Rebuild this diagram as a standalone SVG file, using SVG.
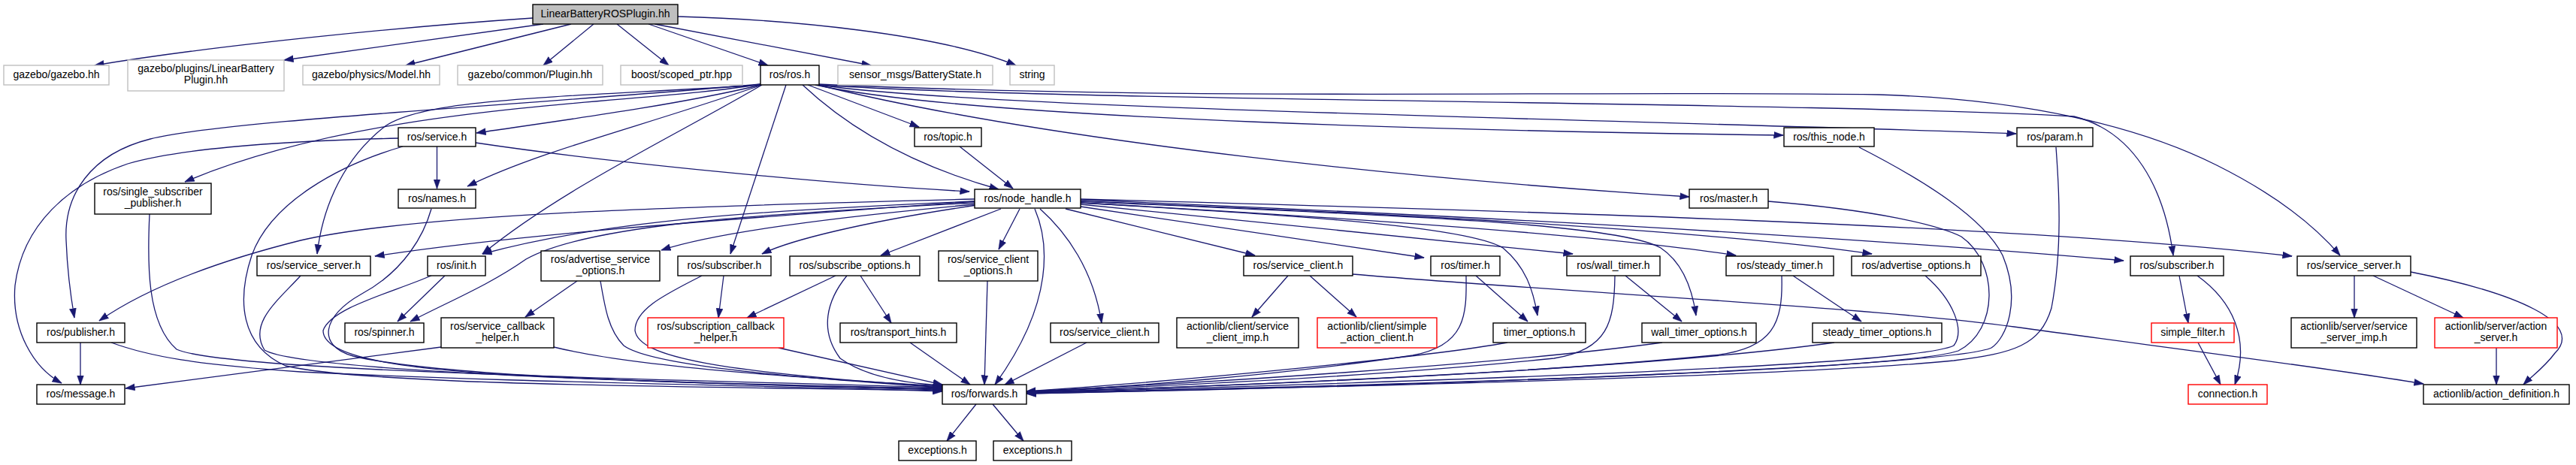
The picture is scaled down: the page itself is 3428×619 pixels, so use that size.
<svg xmlns="http://www.w3.org/2000/svg" width="3428" height="619" viewBox="0 0 3428 619">
<style>
.e{fill:none;stroke:#191970;stroke-width:1.3;marker-end:url(#ah)}
.n rect{fill:#fff;stroke:#000;stroke-width:1.4}
.g rect{fill:#fff;stroke:#bfbfbf;stroke-width:1.4}
.r rect{fill:#fff;stroke:#ff0000;stroke-width:1.4}
.root rect{fill:#bfbfbf;stroke:#000;stroke-width:1.4}
text{font-family:"Liberation Sans",Arial,sans-serif;font-size:14px;text-anchor:middle;fill:#000}
</style>
<defs>
<marker id="ah" markerUnits="userSpaceOnUse" markerWidth="13" markerHeight="10" viewBox="0 0 13 10" refX="12.5" refY="5" orient="auto"><path d="M0,0.5 L13,5 L0,9.5 z" fill="#191970" stroke="#191970" stroke-width="0.5"/></marker>
</defs>
<rect width="3428" height="619" fill="#fff"/>
<g id="edges">
<path class="e" d="M709,24 C560,34 300,58 126,87"/>
<path class="e" d="M723,32 L378,80"/>
<path class="e" d="M760,32 L540,87"/>
<path class="e" d="M790,32 L723,87"/>
<path class="e" d="M821,32 L890,87"/>
<path class="e" d="M863,32 L1022,87"/>
<path class="e" d="M871,32 L1159,87"/>
<path class="e" d="M902,22 C1050,26 1250,45 1352,87"/>
<path class="e" d="M1013,113 C900,140 750,160 634,177"/>
<path class="e" d="M1014,113 C850,170 720,200 622,248"/>
<path class="e" d="M1012,112 C850,140 500,135 246,242"/>
<path class="e" d="M1012,112 C700,140 300,160 200,185 C120,205 85,260 88,320 C90,370 95,400 99,423"/>
<path class="e" d="M1013,113 C750,130 560,130 510,170 C460,210 430,270 422,338"/>
<path class="e" d="M1014,113 C900,180 750,250 642,338"/>
<path class="e" d="M1046,113 L972,338"/>
<path class="e" d="M1068,113 C1150,190 1250,230 1329,252"/>
<path class="e" d="M1075,113 L1223,169"/>
<path class="e" d="M1085,113 C1300,160 2000,175 2373,180"/>
<path class="e" d="M1088,113 C1400,190 1900,240 2248,262"/>
<path class="e" d="M1090,113 C1300,145 2200,160 2683,178"/>
<path class="e" d="M1090,113 C1400,135 2400,135 2760,155 C2840,175 2880,250 2892,340"/>
<path class="e" d="M1088,112 C1600,135 2100,120 2500,126 C2700,132 2850,170 2950,220 C3030,260 3080,300 3114,340"/>
<path class="e" d="M581.5,195 L581.5,251"/>
<path class="e" d="M633,190 C800,215 1100,245 1290,255"/>
<path class="e" d="M530,184 C400,187 250,195 170,218 C90,245 30,300 20,380 C15,440 45,490 82,510"/>
<path class="e" d="M536,195 C450,220 360,270 335,340 C315,400 320,460 380,487 C500,515 1000,515 1254,520"/>
<path class="e" d="M574,278 C565,310 540,360 480,392 C430,420 420,460 470,474 C600,505 1000,512 1254,518"/>
<path class="e" d="M199,285 C196,350 195,430 235,465 C300,495 900,505 1254,516"/>
<path class="e" d="M107,456 L107,512"/>
<path class="e" d="M148,456 C200,475 260,485 400,495 C700,510 1000,512 1254,521"/>
<path class="e" d="M400,367 C370,400 330,430 352,466 C400,495 900,510 1254,519"/>
<path class="e" d="M574,367 C520,390 440,410 430,440 C430,470 500,490 700,500 C900,510 1100,514 1254,517"/>
<path class="e" d="M592,367 L529,428"/>
<path class="e" d="M587,462 L167,517"/>
<path class="e" d="M737,462 C850,490 1100,505 1254,514"/>
<path class="e" d="M768,374 L699,422"/>
<path class="e" d="M799,374 C805,410 810,440 830,460 C870,490 1100,505 1254,516"/>
<path class="e" d="M934,367 C890,390 845,410 845,440 C850,475 950,495 1254,515"/>
<path class="e" d="M963,367 L956,423"/>
<path class="e" d="M1112,367 L994,423"/>
<path class="e" d="M1127,367 C1100,400 1090,440 1118,477 C1150,500 1200,510 1254,513"/>
<path class="e" d="M1145,367 L1186,430"/>
<path class="e" d="M1036,463 L1254,512"/>
<path class="e" d="M1211,456 L1291,512"/>
<path class="e" d="M1314,374 L1310,512"/>
<path class="e" d="M1377,278 C1395,320 1405,400 1324,512"/>
<path class="e" d="M1446,456 L1337,512"/>
<path class="e" d="M1384,278 C1420,310 1455,360 1466,430"/>
<path class="e" d="M1299,538 L1260,587"/>
<path class="e" d="M1321,538 L1362,587"/>
<path class="e" d="M1297,265 C900,275 550,285 400,320 C300,345 200,380 132,427"/>
<path class="e" d="M1297,268 C1000,290 700,310 499,341"/>
<path class="e" d="M1297,268 C1000,280 800,295 642,338"/>
<path class="e" d="M1297,270 C1000,285 780,300 700,345 C650,380 600,400 546,428"/>
<path class="e" d="M1297,272 C1100,290 950,310 880,333"/>
<path class="e" d="M1300,273 C1150,295 1050,320 1014,338"/>
<path class="e" d="M1332,278 L1172,340"/>
<path class="e" d="M1357,278 L1329,332"/>
<path class="e" d="M1418,278 L1670,340"/>
<path class="e" d="M1438,275 L1895,343"/>
<path class="e" d="M1438,270 C1700,285 1950,300 2000,330 C2030,355 2040,385 2046,420"/>
<path class="e" d="M1438,272 L2093,338"/>
<path class="e" d="M1438,268 C1800,285 2150,295 2210,330 C2240,350 2252,385 2257,420"/>
<path class="e" d="M1438,270 C1800,290 2150,315 2310,340"/>
<path class="e" d="M1438,268 C1900,285 2300,310 2491,338"/>
<path class="e" d="M1438,266 C1900,285 2400,310 2826,347"/>
<path class="e" d="M1438,265 C2000,280 2700,300 3050,341"/>
<path class="e" d="M1714,367 L1666,422"/>
<path class="e" d="M1743,367 L1805,422"/>
<path class="e" d="M1800,365 C2100,390 2500,410 2680,435 C2900,465 3100,490 3225,511"/>
<path class="e" d="M1964,367 L2033,428"/>
<path class="e" d="M1951,367 C1952,420 1950,460 1880,473 C1700,500 1500,515 1366,522"/>
<path class="e" d="M2163,367 L2238,428"/>
<path class="e" d="M2149,367 C2148,430 2140,465 2068,477 C1800,505 1500,515 1366,522"/>
<path class="e" d="M2386,367 L2477,428"/>
<path class="e" d="M2371,367 C2373,430 2360,465 2280,473 C2000,500 1600,515 1366,522"/>
<path class="e" d="M2006,456 C1900,475 1600,505 1366,521"/>
<path class="e" d="M2212,456 C2000,485 1600,510 1366,521"/>
<path class="e" d="M2441,456 C2200,490 1700,512 1366,522"/>
<path class="e" d="M2562,367 C2600,400 2615,440 2600,460 C2550,485 2000,505 1366,523"/>
<path class="e" d="M2353,268 C2500,280 2580,300 2610,315 C2660,350 2660,440 2606,467 C2540,490 2000,510 1366,523"/>
<path class="e" d="M2474,196 C2560,240 2640,290 2665,340 C2690,400 2670,450 2650,463 C2600,485 2000,512 1366,524"/>
<path class="e" d="M2736,196 C2740,250 2745,330 2730,410 C2715,460 2680,470 2600,480 C2400,500 1800,515 1366,524"/>
<path class="e" d="M2900,367 L2912,430"/>
<path class="e" d="M2924,367 C2970,400 2995,450 2974,512"/>
<path class="e" d="M2925,456 L2955,512"/>
<path class="e" d="M3133,367 L3133,423"/>
<path class="e" d="M3158,367 L3278,423"/>
<path class="e" d="M3208,362 C3350,390 3440,430 3400,470 C3385,490 3370,500 3358,512"/>
<path class="e" d="M3322,463 L3322,512"/>
<path class="e" d="M1277,195 L1348,251"/>
</g>
<g id="n_root" class="root"><rect x="709" y="6" width="193" height="26"/><text x="805.5" y="23">LinearBatteryROSPlugin.hh</text></g>
<g id="n_gazebo" class="g"><rect x="5" y="87" width="140" height="26"/><text x="75" y="104">gazebo/gazebo.hh</text></g>
<g id="n_lbplugin" class="g"><rect x="170" y="80" width="208" height="41"/><text x="274" y="96">gazebo/plugins/LinearBattery</text><text x="274" y="111">Plugin.hh</text></g>
<g id="n_model" class="g"><rect x="403" y="87" width="182" height="26"/><text x="494" y="104">gazebo/physics/Model.hh</text></g>
<g id="n_plugin" class="g"><rect x="609" y="87" width="193" height="26"/><text x="705.5" y="104">gazebo/common/Plugin.hh</text></g>
<g id="n_scoped" class="g"><rect x="826" y="87" width="162" height="26"/><text x="907" y="104">boost/scoped_ptr.hpp</text></g>
<g id="n_ros" class="n"><rect x="1012" y="87" width="78" height="26"/><text x="1051" y="104">ros/ros.h</text></g>
<g id="n_battery" class="g"><rect x="1115" y="87" width="206" height="26"/><text x="1218" y="104">sensor_msgs/BatteryState.h</text></g>
<g id="n_string" class="g"><rect x="1344" y="87" width="59" height="26"/><text x="1373.5" y="104">string</text></g>
<g id="n_service" class="n"><rect x="530" y="170" width="103" height="25"/><text x="581.5" y="187">ros/service.h</text></g>
<g id="n_topic" class="n"><rect x="1217" y="170" width="89" height="25"/><text x="1261.5" y="187">ros/topic.h</text></g>
<g id="n_thisnode" class="n"><rect x="2374" y="170" width="120" height="25"/><text x="2434" y="187">ros/this_node.h</text></g>
<g id="n_param" class="n"><rect x="2684" y="170" width="101" height="25"/><text x="2734.5" y="187">ros/param.h</text></g>
<g id="n_ssp" class="n"><rect x="126" y="244" width="155" height="41"/><text x="203.5" y="260">ros/single_subscriber</text><text x="203.5" y="275">_publisher.h</text></g>
<g id="n_names" class="n"><rect x="530" y="252" width="103" height="25"/><text x="581.5" y="269">ros/names.h</text></g>
<g id="n_nodehandle" class="n"><rect x="1297" y="252" width="141" height="25"/><text x="1367.5" y="269">ros/node_handle.h</text></g>
<g id="n_master" class="n"><rect x="2248" y="252" width="105" height="25"/><text x="2300.5" y="269">ros/master.h</text></g>
<g id="n_srvserverL" class="n"><rect x="342" y="341" width="151" height="26"/><text x="417.5" y="358">ros/service_server.h</text></g>
<g id="n_init" class="n"><rect x="569" y="341" width="77" height="26"/><text x="607.5" y="358">ros/init.h</text></g>
<g id="n_advsrvopt" class="n"><rect x="720" y="334" width="158" height="40"/><text x="799" y="350">ros/advertise_service</text><text x="799" y="365">_options.h</text></g>
<g id="n_subscriberL" class="n"><rect x="902" y="341" width="124" height="26"/><text x="964" y="358">ros/subscriber.h</text></g>
<g id="n_subopts" class="n"><rect x="1051" y="341" width="173" height="26"/><text x="1137.5" y="358">ros/subscribe_options.h</text></g>
<g id="n_srvclientopts" class="n"><rect x="1249" y="334" width="132" height="40"/><text x="1315" y="350">ros/service_client</text><text x="1315" y="365">_options.h</text></g>
<g id="n_srvclientU" class="n"><rect x="1655" y="341" width="145" height="26"/><text x="1727.5" y="358">ros/service_client.h</text></g>
<g id="n_timer" class="n"><rect x="1904" y="341" width="92" height="26"/><text x="1950" y="358">ros/timer.h</text></g>
<g id="n_walltimer" class="n"><rect x="2085" y="341" width="124" height="26"/><text x="2147" y="358">ros/wall_timer.h</text></g>
<g id="n_steadytimer" class="n"><rect x="2297" y="341" width="143" height="26"/><text x="2368.5" y="358">ros/steady_timer.h</text></g>
<g id="n_advopts" class="n"><rect x="2464" y="341" width="172" height="26"/><text x="2550" y="358">ros/advertise_options.h</text></g>
<g id="n_subscriberR" class="n"><rect x="2835" y="341" width="124" height="26"/><text x="2897" y="358">ros/subscriber.h</text></g>
<g id="n_srvserverR" class="n"><rect x="3057" y="341" width="151" height="26"/><text x="3132.5" y="358">ros/service_server.h</text></g>
<g id="n_publisher" class="n"><rect x="49" y="430" width="117" height="26"/><text x="107.5" y="447">ros/publisher.h</text></g>
<g id="n_spinner" class="n"><rect x="459" y="430" width="105" height="26"/><text x="511.5" y="447">ros/spinner.h</text></g>
<g id="n_srvcbhelper" class="n"><rect x="587" y="423" width="150" height="40"/><text x="662" y="439">ros/service_callback</text><text x="662" y="454">_helper.h</text></g>
<g id="n_subcbhelper" class="r"><rect x="862" y="423" width="181" height="40"/><text x="952.5" y="439">ros/subscription_callback</text><text x="952.5" y="454">_helper.h</text></g>
<g id="n_transport" class="n"><rect x="1118" y="430" width="155" height="26"/><text x="1195.5" y="447">ros/transport_hints.h</text></g>
<g id="n_srvclientL" class="n"><rect x="1398" y="430" width="144" height="26"/><text x="1470" y="447">ros/service_client.h</text></g>
<g id="n_scimp" class="n"><rect x="1566" y="423" width="162" height="40"/><text x="1647" y="439">actionlib/client/service</text><text x="1647" y="454">_client_imp.h</text></g>
<g id="n_sac" class="r"><rect x="1753" y="423" width="159" height="40"/><text x="1832.5" y="439">actionlib/client/simple</text><text x="1832.5" y="454">_action_client.h</text></g>
<g id="n_timeropts" class="n"><rect x="1987" y="430" width="123" height="26"/><text x="2048.5" y="447">timer_options.h</text></g>
<g id="n_walltimeropts" class="n"><rect x="2185" y="430" width="152" height="26"/><text x="2261" y="447">wall_timer_options.h</text></g>
<g id="n_steadytimeropts" class="n"><rect x="2412" y="430" width="172" height="26"/><text x="2498" y="447">steady_timer_options.h</text></g>
<g id="n_simplefilter" class="r"><rect x="2863" y="430" width="110" height="26"/><text x="2918" y="447">simple_filter.h</text></g>
<g id="n_ssimp" class="n"><rect x="3049" y="423" width="167" height="40"/><text x="3132.5" y="439">actionlib/server/service</text><text x="3132.5" y="454">_server_imp.h</text></g>
<g id="n_actionserver" class="r"><rect x="3240" y="423" width="163" height="40"/><text x="3321.5" y="439">actionlib/server/action</text><text x="3321.5" y="454">_server.h</text></g>
<g id="n_message" class="n"><rect x="49" y="512" width="117" height="26"/><text x="107.5" y="529">ros/message.h</text></g>
<g id="n_forwards" class="n"><rect x="1254" y="512" width="112" height="26"/><text x="1310" y="529">ros/forwards.h</text></g>
<g id="n_connection" class="r"><rect x="2912" y="512" width="105" height="26"/><text x="2964.5" y="529">connection.h</text></g>
<g id="n_actiondef" class="n"><rect x="3225" y="512" width="194" height="26"/><text x="3322" y="529">actionlib/action_definition.h</text></g>
<g id="n_exceptions1" class="n"><rect x="1196" y="587" width="103" height="26"/><text x="1247.5" y="604">exceptions.h</text></g>
<g id="n_exceptions2" class="n"><rect x="1322" y="587" width="104" height="26"/><text x="1374" y="604">exceptions.h</text></g>
</svg>
